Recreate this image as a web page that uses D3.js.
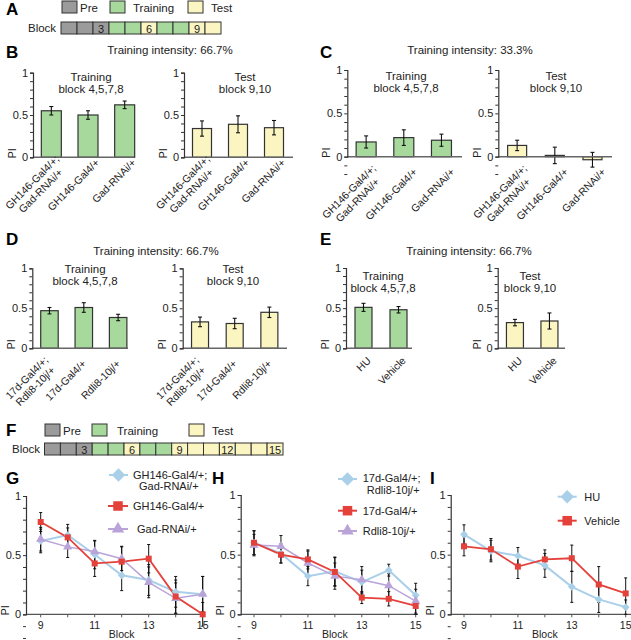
<!DOCTYPE html>
<html><head><meta charset="utf-8">
<script src="https://cdn.jsdelivr.net/npm/d3@7"></script>
<style>body{margin:0;background:#fff}svg{display:block}</style>
</head><body>
<svg id="c" width="631" height="640"></svg>
<script>
// ---------------- data ----------------
const blockTypesA = ["Pre","Pre","Pre","Training","Training","Test","Training","Training","Test","Test"];
const blockLabelsA = ["","","3","","","6","","","9",""];
const blockTypesF = ["Pre","Pre","Pre","Training","Training","Test","Training","Training","Test","Test","Test","Test","Test","Test","Test"];
const blockLabelsF = ["","","3","","","6","","","9","","","12","","","15"];
const legendNames = ["Pre","Training","Test"];

const genotypesGad = ["GH146-Gal4/+;\nGad-RNAi/+","GH146-Gal4/+","Gad-RNAi/+"];
const genotypesRdl = ["17d-Gal4/+;\nRdli8-10j/+","17d-Gal4/+","Rdli8-10j/+"];
const groupsHU = ["HU","Vehicle"];

const B_train = [0.55,0.50,0.62], B_trainErr = [0.05,0.05,0.045];
const B_test  = [0.34,0.39,0.35], B_testErr  = [0.09,0.10,0.085];
const C_train = [0.17,0.22,0.19], C_trainErr = [0.07,0.09,0.07];
const C_test  = [0.13,0.015,-0.035], C_testErr = [0.06,0.095,0.085];
const D_train = [0.47,0.51,0.385], D_trainErr = [0.04,0.06,0.04];
const D_test  = [0.33,0.31,0.45], D_testErr  = [0.06,0.065,0.065];
const E_train = [0.51,0.48], E_trainErr = [0.05,0.04];
const E_test  = [0.32,0.34], E_testErr  = [0.04,0.10];

const blocks = [9,10,11,12,13,14,15];
const blockTicks = [9,11,13,15];
const G_gad   = [0.62,0.67,0.505,0.33,0.29,0.19,0.17], G_gadErr = [0.10,0.09,0.12,0.13,0.13,0.13,0.15];
const G_gal4  = [0.78,0.65,0.43,0.445,0.47,0.15,0.0],  G_gal4Err = [0.08,0.08,0.11,0.13,0.12,0.14,0.10];
const G_rnai  = [0.635,0.57,0.53,0.47,0.27,0.135,0.17], G_rnaiErr = [0.10,0.09,0.09,0.10,0.13,0.13,0.15];
const H_rdl   = [0.60,0.51,0.32,0.36,0.27,0.37,0.16], H_rdlErr = [0.10,0.08,0.08,0.12,0.10,0.05,0.10];
const H_gal4  = [0.60,0.50,0.46,0.355,0.14,0.13,0.07], H_gal4Err = [0.10,0.07,0.08,0.12,0.05,0.06,0.07];
const H_rnai  = [0.58,0.57,0.43,0.32,0.29,0.24,0.11], H_rnaiErr = [0.09,0.09,0.10,0.11,0.11,0.10,0.10];
const I_hu    = [0.67,0.53,0.49,0.41,0.23,0.125,0.06], I_huErr = [0.08,0.09,0.07,0.10,0.13,0.11,0.06];
const I_veh   = [0.57,0.545,0.40,0.46,0.47,0.25,0.175], I_vehErr = [0.08,0.09,0.10,0.08,0.11,0.15,0.13];

// ---------------- style ----------------
const FONT = "'Liberation Sans', Arial, Helvetica, sans-serif";
const fillOf = {Pre:"#9b9b9b", Training:"#a7d99d", Test:"#fbf5c2"};
const BLUE = "#a9cfe9", RED = "#e5413b", PURPLE = "#b9a3d8";
const svg = d3.select("#c").style("font-family", FONT);

function txt(x, y, s, opts={}) {
  return svg.append("text").attr("x", x).attr("y", y).text(s)
    .attr("font-size", opts.size || 11).attr("fill", opts.fill || "#222")
    .attr("text-anchor", opts.anchor || "start").attr("font-weight", opts.weight || "normal");
}
function panelLetter(x, y, s) { txt(x, y, s, {size: 17, weight: "bold", fill: "#000"}); }

// ---------------- block diagrams ----------------
function legendRow(y, xs) {
  legendNames.forEach((n, i) => {
    svg.append("rect").attr("x", xs[i][0]).attr("y", y).attr("width", 15).attr("height", 12)
      .attr("fill", fillOf[n]).attr("stroke", "#333").attr("stroke-width", 1);
    txt(xs[i][1], y + 11, n, {size: 11.5});
  });
}
function blockRow(x0, y, types, labels, bw) {
  const x = d3.scaleBand().domain(d3.range(types.length)).range([x0, x0 + bw * types.length]);
  const g = svg.append("g");
  g.selectAll("rect").data(types).join("rect")
    .attr("x", (d, i) => x(i)).attr("y", y).attr("width", x.bandwidth()).attr("height", 12)
    .attr("fill", d => fillOf[d]).attr("stroke", "#333").attr("stroke-width", 1);
  g.selectAll("text").data(labels).join("text")
    .attr("x", (d, i) => x(i) + x.bandwidth() / 2).attr("y", y + 10.5)
    .attr("text-anchor", "middle").attr("font-size", 11).attr("fill", "#222").text(d => d);
}
panelLetter(6, 15, "A");
legendRow(1, [[62, 80], [110, 133], [188, 211]]);
txt(28, 32, "Block", {size: 11.5});
blockRow(61, 22, blockTypesA, blockLabelsA, 16);

panelLetter(6, 436, "F");
legendRow(424, [[45, 63], [92, 117], [189, 212]]);
txt(12, 453, "Block", {size: 11.5});
blockRow(44.5, 443, blockTypesF, blockLabelsF, 15.9);

// ---------------- bar panels ----------------
function yAxis(g, y, x0, yMin) {
  const ticks = d3.range(Math.round(yMin * 10), 11).map(d => d / 10);
  const ax = d3.axisLeft(y).tickValues(ticks).tickSizeOuter(0).tickSize(3)
    .tickFormat(d => (Math.abs(d) < 1e-9 ? "0" : (Math.abs(d - 0.5) < 1e-9 ? "0.5" : (Math.abs(d - 1) < 1e-9 ? "1" : ""))));
  const a = g.append("g").attr("transform", `translate(${x0},0)`).call(ax);
  a.select(".domain").attr("stroke", "#333").attr("stroke-width", 1.2);
  a.selectAll(".tick line").attr("stroke", "#333");
  a.selectAll(".tick text").attr("font-size", 11).attr("fill", "#222").attr("font-family", FONT).attr("x", -5);
}
function piLabel(g, x, y) {
  g.append("text").attr("transform", `translate(${x},${y}) rotate(-90)`)
    .attr("text-anchor", "middle").attr("font-size", 11).attr("fill", "#222").text("PI");
}
function barPanel(c) {
  const g = svg.append("g");
  const y = d3.scaleLinear().domain([0, 1]).range([c.y0, c.yTop]);
  const x = d3.scalePoint().domain(d3.range(c.values.length)).range([c.x0, c.x0 + c.w]).padding(0.5);
  // bars
  g.selectAll("rect.bar").data(c.values).join("rect").attr("class", "bar")
    .attr("x", (d, i) => x(i) - c.barW / 2).attr("width", c.barW)
    .attr("y", d => y(Math.max(0, d))).attr("height", d => Math.abs(y(0) - y(d)))
    .attr("fill", c.fill).attr("stroke", "#333").attr("stroke-width", 1.2);
  // error bars
  c.values.forEach((v, i) => {
    const e = c.errs[i], cx = x(i);
    g.append("line").attr("x1", cx).attr("x2", cx).attr("y1", y(v - e)).attr("y2", y(v + e)).attr("stroke", "#111").attr("stroke-width", 1.1);
    [v - e, v + e].forEach(t => g.append("line").attr("x1", cx - 2).attr("x2", cx + 2).attr("y1", y(t)).attr("y2", y(t)).attr("stroke", "#111").attr("stroke-width", 1.1));
  });
  // baseline
  g.append("line").attr("x1", c.x0).attr("x2", c.baseEnd).attr("y1", y(0)).attr("y2", y(0)).attr("stroke", "#666").attr("stroke-width", 1.6);
  yAxis(g, y, c.x0, c.yMin);
  piLabel(g, c.x0 - 17, c.y0 - 4);
  // titles
  c.title.forEach((t, i) => g.append("text").attr("x", c.titleX).attr("y", c.titleY + i * 12)
    .attr("text-anchor", "middle").attr("font-size", 11.5).attr("fill", "#222").text(t));
  // category labels (rotated)
  c.labels.forEach((lab, i) => {
    const lines = lab.split("\n");
    const t = g.append("g").attr("transform", `translate(${x(i) + c.lab[0]},${c.y0 + c.lab[1]}) rotate(-45)`);
    const els = lines.map((s, k) => t.append("text").attr("font-size", 10.5).attr("fill", "#222")
      .attr("y", lines.length > 1 ? (k === 0 ? -5 : 7) : 0).text(s));
    const widths = els.map(e => e.node().getComputedTextLength());
    const W = d3.max(widths);
    els.forEach(e => e.attr("text-anchor", "middle").attr("x", -W / 2));
  });
}

txt(170, 54, "Training intensity: 66.7%", {anchor: "middle", size: 11.5});
panelLetter(6, 58, "B");
barPanel({x0: 33, w: 110, y0: 157.3, yTop: 72.7, yMin: 0, baseEnd: 134, barW: 20, values: B_train, errs: B_trainErr,
  fill: fillOf.Training, labels: genotypesGad, title: ["Training", "block 4,5,7,8"], titleX: 91, titleY: 81, lab: [12, 6]});
barPanel({x0: 184, w: 108, y0: 157.3, yTop: 72.7, yMin: 0, baseEnd: 293, barW: 19, values: B_test, errs: B_testErr,
  fill: fillOf.Test, labels: genotypesGad, title: ["Test", "block 9,10"], titleX: 245, titleY: 81, lab: [12, 6]});

txt(470, 54, "Training intensity: 33.3%", {anchor: "middle", size: 11.5});
panelLetter(320, 58, "C");
barPanel({x0: 347.3, w: 113, y0: 156.7, yTop: 70, yMin: -0.2, baseEnd: 462, barW: 20, values: C_train, errs: C_trainErr,
  fill: fillOf.Training, labels: genotypesGad, title: ["Training", "block 4,5,7,8"], titleX: 406, titleY: 80, lab: [14, 16]});
barPanel({x0: 498.3, w: 113, y0: 156.7, yTop: 70, yMin: -0.2, baseEnd: 612, barW: 19, values: C_test, errs: C_testErr,
  fill: fillOf.Test, labels: genotypesGad, title: ["Test", "block 9,10"], titleX: 556, titleY: 80, lab: [14, 16]});

txt(156, 255, "Training intensity: 66.7%", {anchor: "middle", size: 11.5});
panelLetter(6, 245, "D");
barPanel({x0: 32.3, w: 103, y0: 348.3, yTop: 268.3, yMin: 0, baseEnd: 128, barW: 17.5, values: D_train, errs: D_trainErr,
  fill: fillOf.Training, labels: genotypesRdl, title: ["Training", "block 4,5,7,8"], titleX: 85, titleY: 273, lab: [3, 16]});
barPanel({x0: 182.7, w: 104, y0: 348.3, yTop: 268.3, yMin: 0, baseEnd: 287, barW: 17, values: D_test, errs: D_testErr,
  fill: fillOf.Test, labels: genotypesRdl, title: ["Test", "block 9,10"], titleX: 233, titleY: 273, lab: [3, 16]});

txt(469, 255, "Training intensity: 66.7%", {anchor: "middle", size: 11.5});
panelLetter(320, 245, "E");
barPanel({x0: 346, w: 70, y0: 348.3, yTop: 268, yMin: 0, baseEnd: 412, barW: 17, values: E_train, errs: E_trainErr,
  fill: fillOf.Training, labels: groupsHU, title: ["Training", "block 4,5,7,8"], titleX: 383, titleY: 280, lab: [8, 13]});
barPanel({x0: 497.7, w: 69, y0: 348.3, yTop: 268, yMin: 0, baseEnd: 565, barW: 17, values: E_test, errs: E_testErr,
  fill: fillOf.Test, labels: groupsHU, title: ["Test", "block 9,10"], titleX: 530, titleY: 280, lab: [8, 13]});

// ---------------- line panels ----------------
function marker(g, shape, cx, cy, s, color) {
  let sym, rot = 0;
  if (shape === "diamond") { sym = d3.symbol(d3.symbolSquare, s * s); rot = 45; }
  else if (shape === "square") sym = d3.symbol(d3.symbolSquare, s * s);
  else sym = d3.symbol(d3.symbolTriangle, s * s * 0.75);
  g.append("path").attr("d", sym()).attr("transform", `translate(${cx},${cy}) rotate(${rot})`).attr("fill", color);
}
function linePanel(c) {
  const g = svg.append("g");
  const y = d3.scaleLinear().domain([0, 1]).range([c.y0, c.yTop]);
  const x = d3.scaleLinear().domain([9, 15]).range([c.x9, c.x15]);
  // x axis
  g.append("line").attr("x1", c.x0).attr("x2", c.axEnd).attr("y1", y(0)).attr("y2", y(0)).attr("stroke", "#555").attr("stroke-width", 1.3);
  blocks.forEach(b => g.append("line").attr("x1", x(b)).attr("x2", x(b)).attr("y1", y(0)).attr("y2", y(0) + 3).attr("stroke", "#555"));
  blockTicks.forEach(b => g.append("text").attr("x", x(b)).attr("y", c.y0 + 15).attr("text-anchor", "middle")
    .attr("font-size", 10.5).attr("fill", "#222").text(b));
  g.append("text").attr("x", (c.x9 + c.x15) / 2).attr("y", c.y0 + 24).attr("text-anchor", "middle")
    .attr("font-size", 10.5).attr("fill", "#222").text("Block");
  yAxis(g, y, c.x0, -0.2);
  piLabel(g, c.x0 - 17, c.y0 - 4);
  const line = d3.line().x((d, i) => x(blocks[i])).y(d => y(d));
  // lines
  c.series.forEach(s => g.append("path").datum(s.values).attr("d", line).attr("fill", "none")
    .attr("stroke", s.color).attr("stroke-width", s.lw));
  // error bars
  c.series.forEach(s => s.values.forEach((v, i) => {
    const e = s.errs[i], cx = x(blocks[i]);
    g.append("line").attr("x1", cx).attr("x2", cx).attr("y1", y(v - e)).attr("y2", y(v + e)).attr("stroke", "#111").attr("stroke-width", 1);
    [v - e, v + e].forEach(t => g.append("line").attr("x1", cx - 1.5).attr("x2", cx + 1.5).attr("y1", y(t)).attr("y2", y(t)).attr("stroke", "#111").attr("stroke-width", 1));
  }));
  // markers
  c.series.forEach(s => s.values.forEach((v, i) => marker(g, s.shape, x(blocks[i]), y(v), s.ms, s.color)));
  // legend
  c.legend.forEach((L, k) => {
    const s = c.series[L.idx];
    g.append("line").attr("x1", L.lx[0]).attr("x2", L.lx[1]).attr("y1", L.y).attr("y2", L.y).attr("stroke", s.color).attr("stroke-width", 2);
    marker(g, s.shape, (L.lx[0] + L.lx[1]) / 2, L.y, 9.5, s.color);
    L.text.forEach((t, j) => g.append("text").attr("x", L.tx[j]).attr("y", L.ty[j]).attr("font-size", 11)
      .attr("fill", "#222").text(t));
  });
}

panelLetter(6, 484, "G");
linePanel({x0: 26, axEnd: 205, x9: 40.7, x15: 202.7, y0: 614.3, yTop: 496,
  series: [
    {values: G_gad, errs: G_gadErr, color: BLUE, shape: "diamond", ms: 5.5, lw: 2},
    {values: G_rnai, errs: G_rnaiErr, color: PURPLE, shape: "triangle", ms: 7, lw: 1.5},
    {values: G_gal4, errs: G_gal4Err, color: RED, shape: "square", ms: 6, lw: 1.8}],
  legend: [
    {idx: 0, lx: [109, 128], y: 475, text: ["GH146-Gal4/+;", "Gad-RNAi/+"], tx: [133, 139], ty: [479, 490]},
    {idx: 2, lx: [108, 128], y: 506, text: ["GH146-Gal4/+"], tx: [133], ty: [510]},
    {idx: 1, lx: [108, 128], y: 529, text: ["Gad-RNAi/+"], tx: [137], ty: [533]}]});

panelLetter(212, 484, "H");
linePanel({x0: 240.7, axEnd: 418, x9: 254, x15: 415.7, y0: 614.3, yTop: 495,
  series: [
    {values: H_rdl, errs: H_rdlErr, color: BLUE, shape: "diamond", ms: 5.5, lw: 2},
    {values: H_rnai, errs: H_rnaiErr, color: PURPLE, shape: "triangle", ms: 7, lw: 1.5},
    {values: H_gal4, errs: H_gal4Err, color: RED, shape: "square", ms: 6, lw: 1.8}],
  legend: [
    {idx: 0, lx: [338, 357], y: 479, text: ["17d-Gal4/+;", "Rdli8-10j/+"], tx: [362.7, 366.7], ty: [482, 494]},
    {idx: 2, lx: [338, 357], y: 510.7, text: ["17d-Gal4/+"], tx: [362.7], ty: [515]},
    {idx: 1, lx: [338, 357], y: 531, text: ["Rdli8-10j/+"], tx: [362.7], ty: [535]}]});

panelLetter(430, 484, "I");
linePanel({x0: 450.7, axEnd: 631, x9: 464, x15: 625.7, y0: 614.3, yTop: 495,
  series: [
    {values: I_hu, errs: I_huErr, color: BLUE, shape: "diamond", ms: 5.5, lw: 2},
    {values: I_veh, errs: I_vehErr, color: RED, shape: "square", ms: 6, lw: 1.8}],
  legend: [
    {idx: 0, lx: [557.7, 576.7], y: 496.7, text: ["HU"], tx: [584.3], ty: [501]},
    {idx: 1, lx: [557.7, 576.7], y: 520.7, text: ["Vehicle"], tx: [584.3], ty: [525]}]});
</script>
</body></html>
